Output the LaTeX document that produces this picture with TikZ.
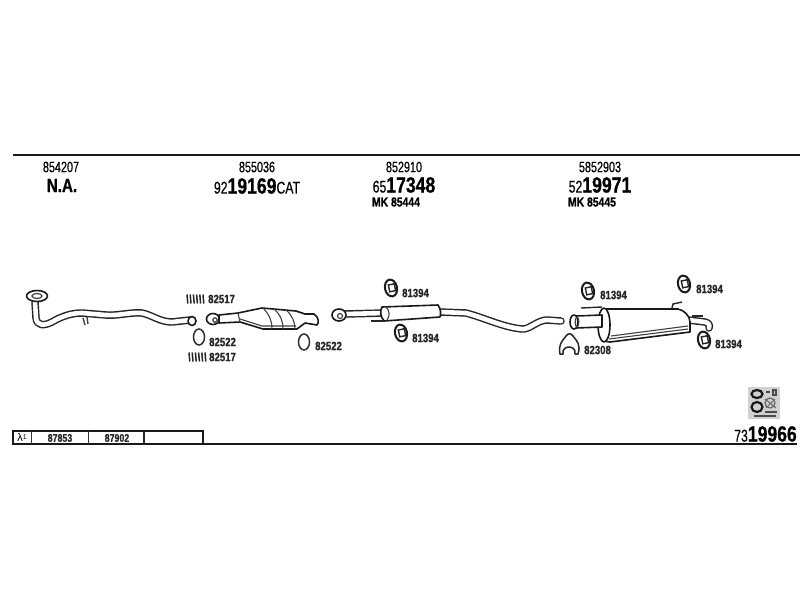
\documentclass[tikz,border=0pt]{standalone}
\usepackage{fontspec}
\setmainfont{Liberation Sans}
\newfontfamily\nar[FakeStretch=0.72,FakeBold=0.4]{Liberation Sans}
\newfontfamily\narb[FakeStretch=0.8,FakeBold=0.8]{Liberation Sans Bold}
\newcommand{\sz}[1]{\fontsize{#1}{#1}\selectfont}
\tikzset{
 rulez/.style={line width=1.8pt,black!90},
 pn/.style={inner sep=0pt,font=\nar\sz{15}},
 big/.style={inner sep=0pt,font=\nar\sz{17}},
 smalllab/.style={inner sep=0pt,font=\narb\sz{12},black!85},
 pipe/.style={line width=7.5pt,black!85,line cap=round,line join=round,postaction={draw=white,line width=4.6pt}},
 part/.style={draw=black!90,line width=1.6pt,fill=white,line join=round},
 thin part/.style={draw=black!75,line width=1.1pt},
 ringp/.style={draw=black!80,line width=1.5pt,fill=white},
 hang/.pic={
   \draw[black!90,line width=2pt,fill=white,rotate=12] (0,0) ellipse (6 and 8.5);
   \draw[black!85,line width=1.4pt,rotate=12] (-2,-3.5) rectangle (4,3.5);
 },
 clip spring/.pic={
   \foreach \d in {0,3.2,6.4,9.6,12.8,16}
     \draw[black!85,line width=1.5pt] (\d,-4.5) -- (\d+.8,4.5);
 }
}
\begin{document}
\begin{tikzpicture}[x=1pt,y=-1pt]
\useasboundingbox (0,0) rectangle (800,600);
% rules
\draw[rulez] (13,155) -- (800,155);
\draw[rulez] (13,444) -- (797,444);
% headers
\node[pn] (h1) at (61,167) {854207};
\node[inner sep=0pt,font=\narb\sz{19}] (h1b) at (62,185.5) {N.A.};
\node[pn] (h2) at (257,167) {855036};
\node[big] (h2b) at (257,186) {92{\narb\sz{22}19169}CAT};
\node[pn] (h3) at (404,167) {852910};
\node[big] (h3b) at (404,185) {65{\narb\sz{22}17348}};
\node[inner sep=0pt,font=\narb\sz{13}] (h3c) at (396,202) {MK 85444};
\node[pn] (h4) at (600,167) {5852903};
\node[big] (h4b) at (600,185) {52{\narb\sz{22}19971}};
\node[inner sep=0pt,font=\narb\sz{13}] (h4c) at (592,202) {MK 85445};
% front pipe
\draw[pipe] (35,302) -- (36,318) .. controls (37,326) and (44,326) .. (52,322)
  .. controls (62,316) and (72,313) .. (82,313) -- (106,315)
  .. controls (118,316) and (130,312) .. (142,313) .. controls (152,315) and (160,322) .. (172,322) -- (190,320);
\draw[thin part,line width=1.4pt] (83,318) -- (85,325) (87,317) -- (88,324);
\draw[part] (37,296) ellipse (10.5 and 5.5);
\draw[black!75,line width=1.2pt] (37,296) ellipse (5 and 2.5);
\draw[part] (192,321) ellipse (4 and 4.5);
% catalytic converter
\draw[part] (213,319) ellipse (6.5 and 5.5);
\draw[black!75,line width=1.2pt] (215,320) circle (2.2);
\draw[part] (219,315) -- (238,313) -- (262,308) -- (296,311) -- (305,314) -- (314,314) .. controls (319,317) and (319,323) .. (317,325) -- (305,323) -- (297,329) -- (263,329) -- (240,322) -- (219,323) -- cycle;
\draw[thin part] (263,308) .. controls (270,315) and (272,322) .. (272,329)
  (274,309) .. controls (281,315) and (283,322) .. (283,329)
  (286,310) .. controls (292,315) and (295,322) .. (295,329)
  (240,319) -- (262,326) -- (296,326);
\draw[thin part] (238,313) -- (240,322);
% clamps, rings, labels
\pic at (187,299) {clip spring};
\pic at (189,357) {clip spring};
\node[smalllab,anchor=west] (l1) at (208,299) {82517};
\node[smalllab,anchor=west] (l2) at (209,357) {82517};
\draw[ringp] (199,337) ellipse (5.5 and 8);
\node[smalllab,anchor=west] (l3) at (209,342) {82522};
\draw[ringp] (304,342) ellipse (5.5 and 8);
\node[smalllab,anchor=west] (l4) at (315,346) {82522};
% middle pipe
\draw[pipe] (345,314) -- (384,313);
\draw[part] (339,315) ellipse (7 and 6);
\draw[black!75,line width=1.2pt] (340,316) circle (2.5);
\draw[pipe] (440,312) -- (466,313) .. controls (485,318) and (505,328) .. (523,329) .. controls (530,329) and (538,320) .. (547,320) -- (561,321);
\draw[part] (382,307) -- (438,305) .. controls (441,309) and (441,314) .. (440,317) -- (384,321) .. controls (380,316) and (380,311) .. (382,307) -- cycle;
\draw[thin part] (386,307) .. controls (390,311) and (390,316) .. (387,320);
\draw[black!85,line width=1.3pt] (371,321) -- (384,321);
\pic at (391,288) {hang};
\node[smalllab,anchor=west] (l5) at (402,293) {81394};
\pic at (401,333) {hang};
\node[smalllab,anchor=west] (l6) at (412,338) {81394};
% rear silencer
\draw[pipe] (688,320) -- (705,322) .. controls (709,323) and (710,325) .. (709,328);
\draw[black!85,line width=1.3pt] (692,316) -- (703,316);
\draw[part] (604,309) -- (678,309) .. controls (684,310) and (690,316) .. (690,322) -- (690,332) -- (610,342) .. controls (605,342) and (600,340) .. (600,325) .. controls (600,312) and (602,309) .. (604,309) -- cycle;
\draw[thin part] (609,339) -- (688,329) (611,336) -- (688,326);
\draw[black!85,line width=1.4pt] (672,308) -- (673,304) -- (682,302);
\draw[part] (604,325) ellipse (6 and 17);
\draw[black!85,line width=1.4pt] (581,308) -- (602,307);
\draw[part] (576,316) -- (602,315) -- (602,327) -- (576,328) -- cycle;
\draw[part] (574,322) ellipse (4 and 7);
\draw[black!75,line width=1.2pt] (577,322) ellipse (1.8 and 5);
\pic at (588,291) {hang};
\node[smalllab,anchor=west] (l7) at (600,295) {81394};
\pic at (684,284) {hang};
\node[smalllab,anchor=west] (l8) at (696,289) {81394};
\pic at (704,340) {hang};
\node[smalllab,anchor=west] (l9) at (715,344) {81394};
\draw[black!85,line width=1.5pt,line join=round] (560,354) .. controls (558,345) and (562,341) .. (566,336) .. controls (568,333) and (571,333) .. (573,336) .. controls (577,341) and (581,345) .. (578,354) -- (575,354) .. controls (576,349) and (572,347) .. (569,347) .. controls (566,347) and (562,349) .. (563,354) -- cycle;
\node[smalllab,anchor=west] (l10) at (584,350) {82308};
% table
\draw[black!90,line width=1.5pt] (13,431) rectangle (203,444);
\draw[black!80,line width=1pt] (31,431) -- (31,444) (88,431) -- (88,444);
\draw[black!85,line width=1.2pt] (144,431) -- (144,444);
\node[inner sep=0pt,font=\sz{11}] (t0) at (22,437.5) {λ\raisebox{2pt}{\sz{7}1}};
\node[smalllab,font=\narb\sz{11}] (t1) at (60,438) {87853};
\node[smalllab,font=\narb\sz{11}] (t2) at (117,438) {87902};
% symbol
\fill[black!18] (748,387) rectangle (780,419);
\draw[black!90,line width=2.2pt] (757,394) ellipse (5.5 and 4) (757,407) ellipse (5.5 and 5);
\draw[black!70,line width=1.2pt] (766,392) -- (770,392) (773,390) rectangle (776,395) (754,416) -- (776,416) (765,412) -- (777,412);
\draw[black!60,line width=1.2pt] (770,403) circle (5);
\draw[black!60,line width=1pt] (765,399) -- (776,408) (766,408) -- (775,399);
% article
\node[inner sep=0pt,anchor=east,font=\nar\sz{17}] (art) at (797,434) {73{\narb\sz{22}19966}};
\end{tikzpicture}
\end{document}
